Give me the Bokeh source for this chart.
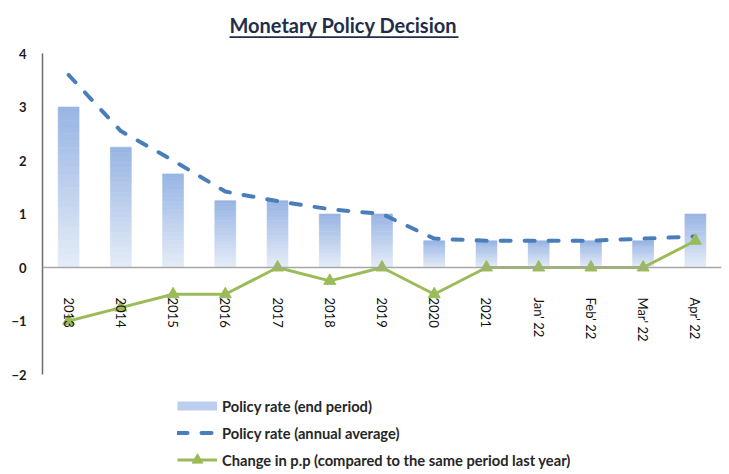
import math
from bokeh.plotting import figure
from bokeh.models import (ColumnDataSource, FixedTicker, Span, Label, BoxAnnotation,
                          Legend, LegendItem)
from bokeh.core.properties import value
from bokeh.embed import file_html
from bokeh.resources import INLINE

categories = ["2013", "2014", "2015", "2016", "2017", "2018", "2019", "2020", "2021",
              "Jan' 22", "Feb' 22", "Mar' 22", "Apr' 22"]
policy_end = [3.0, 2.25, 1.75, 1.25, 1.25, 1.0, 1.0, 0.5, 0.5, 0.5, 0.5, 0.5, 1.0]
policy_avg = [3.6, 2.55, 2.0, 1.42, 1.24, 1.09, 1.0, 0.54, 0.5, 0.5, 0.5, 0.54, 0.58]
change_pp = [-1.0, -0.75, -0.5, -0.5, 0.0, -0.25, 0.0, -0.5, 0.0, 0.0, 0.0, 0.0, 0.5]
y_ticks = [-2, -1, 0, 1, 2, 3, 4]

FONT = "Lato"
BLUE_TOP = (0x97, 0xB4, 0xE3)
BLUE_BOTTOM = (0xE6, 0xED, 0xF8)
GREEN = "#9BBB59"
DASH_BLUE = "#4A7EBB"

xs = list(range(len(categories)))

p = figure(width=729, height=474, x_range=(-0.5, 12.5), y_range=(-3.869, 4.991),
           output_backend="svg", toolbar_location=None, x_axis_location=None,
           min_border_left=42, min_border_right=8, min_border_top=0, min_border_bottom=0)
p.outline_line_color = None
p.xgrid.visible = False
p.ygrid.visible = False
p.background_fill_color = "white"
p.border_fill_color = "white"

# y axis
ax = p.yaxis[0]
ax.ticker = FixedTicker(ticks=y_ticks)
ax.bounds = (-2, 4)
ax.axis_line_color = "#6b6b6b"
ax.axis_line_width = 1.5
ax.major_tick_line_color = None
ax.minor_tick_line_color = None
ax.major_tick_out = 0
ax.major_tick_in = 0
ax.major_label_standoff = 16
ax.major_label_text_font = FONT
ax.major_label_text_font_style = "bold"
ax.major_label_text_font_size = "13px"
ax.major_label_text_color = "#1a1a1a"

# zero line
p.add_layout(Span(location=0, dimension="width", line_color="#a6a6a6", line_width=1.5))

# gradient bars built from slices of each bar
N = 24
bx, bb, bt, bc = [], [], [], []
for i, v in enumerate(policy_end):
    for k in range(N):
        f0 = k / N
        f1 = (k + 1) / N
        t = (f0 + f1) / 2  # 0 bottom -> 1 top
        c = tuple(int(round(BLUE_BOTTOM[j] + (BLUE_TOP[j] - BLUE_BOTTOM[j]) * t)) for j in range(3))
        bx.append(xs[i])
        bb.append(v * f0)
        bt.append(v * f1)
        bc.append("#%02x%02x%02x" % c)
bar_src = ColumnDataSource(dict(x=bx, bottom=bb, top=bt, color=bc))
bar_r = p.vbar(x="x", bottom="bottom", top="top", width=0.4, source=bar_src,
               fill_color="color", line_color="color", line_width=0.6)

# legend swatch for the bars (a line with no drawable point, only shown in the legend)
bar_leg = p.line(x=[0, 1], y=[float("nan"), float("nan")], line_color="#BCCEEE",
                 line_width=9, line_cap="butt")

# average line
avg_r = p.line(xs, policy_avg, line_color=DASH_BLUE, line_width=4,
               line_dash="10 14", line_cap="round")

# change line
chg_l = p.line(xs, change_pp, line_color=GREEN, line_width=3)
chg_m = p.scatter(xs, change_pp, marker="triangle", size=12,
                  fill_color=GREEN, line_color=GREEN)

# x category labels
lab_src = ColumnDataSource(dict(x=xs, y=[0] * len(xs), text=categories))
p.text(x="x", y="y", text="text", source=lab_src, angle=-math.pi / 2,
       text_align="left", text_baseline="middle", y_offset=30,
       text_font=value(FONT), text_font_size="13px", text_color="#111111")

# title with underline
p.add_layout(Label(x=301, y=450, x_units="screen", y_units="screen",
                   text="Monetary Policy Decision", text_align="center",
                   text_baseline="middle", text_font=FONT, text_font_style="bold",
                   text_font_size="20px", text_color="#1F2D4A"))
p.add_layout(BoxAnnotation(left=187, right=416, bottom=436.5, top=438.3,
                           left_units="screen", right_units="screen",
                           bottom_units="screen", top_units="screen",
                           fill_color="#1F2D4A", fill_alpha=1, line_color=None))

# legend
legend = Legend(items=[
    LegendItem(label="Policy rate (end period)", renderers=[bar_leg]),
    LegendItem(label="Policy rate (annual average)", renderers=[avg_r]),
    LegendItem(label="Change in p.p (compared to the same period last year)",
               renderers=[chg_l, chg_m]),
], location=(135, 1))
legend.background_fill_alpha = 0
legend.border_line_color = None
legend.padding = 0
legend.margin = 0
legend.spacing = 0
legend.label_standoff = 5
legend.glyph_width = 40
legend.glyph_height = 27
legend.label_height = 20
legend.label_text_font = FONT
legend.label_text_font_style = "bold"
legend.label_text_font_size = "14.7px"
legend.label_text_color = "#262626"
p.add_layout(legend)

open("out.html", "w").write(file_html(p, INLINE))
